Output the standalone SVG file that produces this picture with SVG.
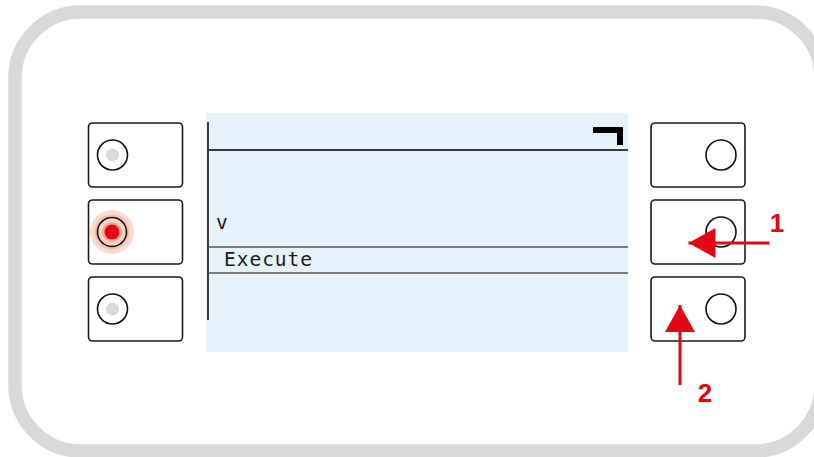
<svg xmlns="http://www.w3.org/2000/svg" width="814" height="457" viewBox="0 0 814 457">
<style>
.btn{fill:#fff;stroke:#1a1a1a;stroke-width:1.6}
.ring{fill:#fff;stroke:#111;stroke-width:1.6}
.dot{fill:#d9d9d9}
.scr{stroke:#3a3a3a;stroke-width:2}
.thin{stroke:#555;stroke-width:1.5}
.txt{font-family:"DejaVu Sans Mono",monospace;fill:#1a1a1a;font-size:19.5px}
.red{stroke:#e30613;stroke-width:3;fill:none}
.lbl{font-family:"Liberation Sans",Arial,sans-serif;font-weight:bold;font-size:26px;fill:#e30613;text-anchor:middle}
</style>
<defs>
<marker id="ah" markerUnits="userSpaceOnUse" markerWidth="30" markerHeight="32" refX="27" refY="15" orient="auto">
<path d="M0,0 L27,15 L0,30 Z" fill="#e30613"/>
</marker>
</defs>
<rect id="frame" x="15" y="12" width="806" height="439" rx="66" ry="66" fill="#fff" stroke="#d9d9d9" stroke-width="13.5"/>
<g id="screen">
<rect x="206" y="113" width="422" height="239" fill="#e6f3fc"/>
<line class="scr" x1="208" y1="122" x2="208" y2="320"/>
<line class="scr" x1="208" y1="150" x2="628" y2="150"/>
<path d="M593,130 H620 V145" fill="none" stroke="#000" stroke-width="6"/>
<text class="txt" x="216" y="229" font-size="18">v</text>
<line class="thin" x1="208" y1="247" x2="628" y2="247"/>
<text class="txt" x="224" y="266" textLength="88" lengthAdjust="spacing">Execute</text>
<line class="thin" x1="208" y1="273" x2="628" y2="273"/>
</g>
<g id="btn-l1">
<rect class="btn" x="88.5" y="123" width="94" height="64" rx="4"/>
<circle class="ring" cx="112.5" cy="155" r="15"/>
<circle class="dot" cx="112.5" cy="155" r="6.5"/>
</g>
<g id="btn-l2">
<rect class="btn" x="88.5" y="200" width="94" height="64" rx="4"/>
<circle cx="112" cy="232" r="22" fill="#fcdcd0"/>
<circle cx="112" cy="232" r="18" fill="#f9c3b0"/>
<circle cx="112" cy="232" r="14.5" fill="#fbd3c5" stroke="#111" stroke-width="1.6"/>
<circle cx="112" cy="232" r="10" fill="#f6a890"/>
<circle cx="112" cy="232" r="7.5" fill="#e30613"/>
</g>
<g id="btn-l3">
<rect class="btn" x="88.5" y="277" width="94" height="64" rx="4"/>
<circle class="ring" cx="112.5" cy="309" r="15"/>
<circle class="dot" cx="112.5" cy="309" r="6.5"/>
</g>
<g id="btn-r1">
<rect class="btn" x="651" y="123" width="94" height="64" rx="4"/>
<circle class="ring" cx="721" cy="155" r="15"/>
</g>
<g id="btn-r2">
<rect class="btn" x="651" y="200" width="94" height="64" rx="4"/>
<circle class="ring" cx="721" cy="232" r="15"/>
</g>
<g id="btn-r3">
<rect class="btn" x="651" y="277" width="94" height="64" rx="4"/>
<circle class="ring" cx="721" cy="309" r="15"/>
</g>
<g id="connectors">
<line class="red" x1="769.5" y1="243" x2="688.5" y2="243" marker-end="url(#ah)"/>
<line class="red" x1="680" y1="385" x2="680" y2="305" marker-end="url(#ah)"/>
</g>
<g id="labels">
<text class="lbl" x="777" y="231.5">1</text>
<text class="lbl" x="705" y="401.5">2</text>
</g>
</svg>
